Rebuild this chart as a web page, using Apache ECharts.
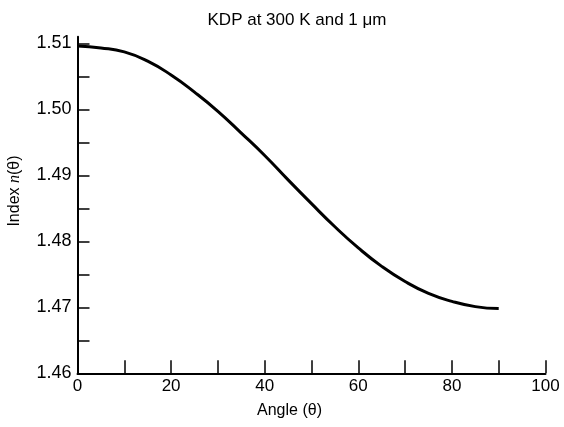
<!DOCTYPE html>
<html>
<head>
<meta charset="utf-8">
<script src="https://cdn.jsdelivr.net/npm/echarts@6/dist/echarts.min.js"></script>
<style>
	html, body { margin: 0; padding: 0; background: #fff; }
	#chart { width: 564px; height: 427px; }
</style>
</head>
<body>
<div id="chart"></div>
<script type="text/javascript">
	// angle in degrees, index
	var angles = [0, 5, 10, 15, 20, 25, 30, 35, 40, 45, 50, 55, 60, 65, 70, 75, 80, 85, 90];
	var index = [1.5096, 1.5093, 1.5087, 1.5073, 1.5052, 1.5026, 1.4997, 1.4964, 1.4930, 1.4893,
		1.4857, 1.4822, 1.4790, 1.4762, 1.4739, 1.4721, 1.4709, 1.4701, 1.4698];

	// y axis ticks (every 0.005) and labels (every 0.01)
	var yTicks = [1.46, 1.465, 1.47, 1.475, 1.48, 1.485, 1.49, 1.495, 1.50, 1.505, 1.51];
	var yLabels = [1.46, 1.47, 1.48, 1.49, 1.50, 1.51];

	var points = [];
	for (var i = 0; i < angles.length; i++) {
		points.push([angles[i], index[i]]);
	}

	var font = 'Liberation Sans, Arial, sans-serif';
	var myChart = echarts.init(document.getElementById('chart'));
	var option = {
		animation: false,
		title: {
			text: 'KDP at 300 K and 1 \u03bcm',
			left: 292,
			textAlign: 'center',
			top: 7,
			textStyle: { fontFamily: font, fontSize: 17, fontWeight: 'normal', color: '#000' }
		},
		grid: { left: 77.5, right: 18.5, top: 36.7, bottom: 53.7, outerBoundsMode: 'none', containLabel: false },
		xAxis: {
			type: 'value',
			min: 0, max: 100, interval: 20,
			name: 'Angle (\u03b8)',
			nameLocation: 'middle',
			nameGap: 29,
			nameTextStyle: { fontFamily: font, fontSize: 16, color: '#000', padding: [0, 44, 0, 0] },
			axisLine: { lineStyle: { color: '#000', width: 2 } },
			axisTick: { show: true, inside: true, length: 13, lineStyle: { color: '#000', width: 1.5 } },
			minorTick: { show: true, splitNumber: 2, length: 13, lineStyle: { color: '#000', width: 1.5 } },
			axisLabel: { fontFamily: font, fontSize: 17, color: '#000', margin: 5 },
			splitLine: { show: false }
		},
		yAxis: {
			type: 'value',
			min: 1.46, max: 1.511,
			name: '{a|Index }{i|n}{a|(\u03b8)}',
			nameLocation: 'middle',
			nameGap: 55,
			nameTextStyle: {
				padding: [0, 0, 0, 28],
				rich: {
					a: { fontFamily: font, fontSize: 16, color: '#000' },
					i: { fontFamily: 'Liberation Serif, serif', fontStyle: 'italic', fontSize: 16, color: '#000' }
				}
			},
			axisLine: { show: true, lineStyle: { color: '#000', width: 2 } },
			axisTick: { show: true, inside: true, length: 12, customValues: yTicks, lineStyle: { color: '#000', width: 1.5 } },
			axisLabel: {
				fontFamily: font, fontSize: 18, color: '#000', margin: 6,
				customValues: yLabels,
				formatter: function (v) { return v.toFixed(2); }
			},
			splitLine: { show: false }
		},
		series: [{
			type: 'line',
			data: points,
			smooth: true,
			showSymbol: false,
			lineStyle: { color: '#000', width: 3 }
		}]
	};
	myChart.setOption(option);
</script>
</body>
</html>
